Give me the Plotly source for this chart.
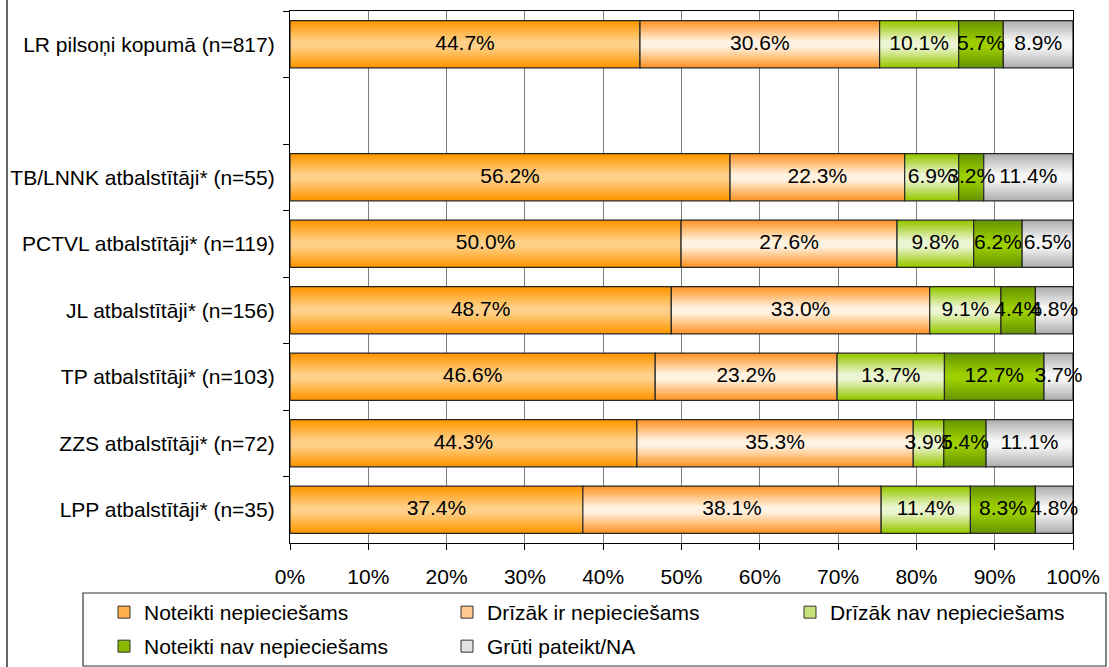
import plotly.graph_objects as go

# ---------------- data ----------------
categories = [
    "LR pilsoņi kopumā (n=817)",
    " ",
    "TB/LNNK atbalstītāji* (n=55)",
    "PCTVL atbalstītāji* (n=119)",
    "JL atbalstītāji* (n=156)",
    "TP atbalstītāji* (n=103)",
    "ZZS atbalstītāji* (n=72)",
    "LPP atbalstītāji* (n=35)",
]
series_names = [
    "Noteikti nepieciešams",
    "Drīzāk ir nepieciešams",
    "Drīzāk nav nepieciešams",
    "Noteikti nav nepieciešams",
    "Grūti pateikt/NA",
]
noteikti_nep = [44.7, None, 56.2, 50.0, 48.7, 46.6, 44.3, 37.4]
drizak_ir = [30.6, None, 22.3, 27.6, 33.0, 23.2, 35.3, 38.1]
drizak_nav = [10.1, None, 6.9, 9.8, 9.1, 13.7, 3.9, 11.4]
noteikti_nav = [5.7, None, 3.2, 6.2, 4.4, 12.7, 5.4, 8.3]
gruti = [8.9, None, 11.4, 6.5, 4.8, 3.7, 11.1, 4.8]
tick_values = [0, 10, 20, 30, 40, 50, 60, 70, 80, 90, 100]

series_values = [noteikti_nep, drizak_ir, drizak_nav, noteikti_nav, gruti]

# ---------------- styling ----------------
edge_colors = [(255, 150, 0), (255, 150, 40), (150, 200, 0), (104, 150, 0), (176, 176, 176)]
center_colors = [(255, 208, 135), (255, 242, 224), (236, 245, 210), (156, 206, 0), (247, 247, 247)]
legend_colors = ["#FFB04A", "#FFC890", "#C8E27A", "#88B800", "#E2E2E2"]
legend_rows = ["legend", "legend", "legend", "legend2", "legend2"]
FONT = "Liberation Sans, Arial, sans-serif"
FS = 21
BAR_W = 0.71
N_LAYERS = 12

# 100% stacked: normalise each row
n_rows = len(categories)
shares = [[None] * n_rows for _ in series_values]
bases = [[None] * n_rows for _ in series_values]
for i in range(n_rows):
    if series_values[0][i] is None:
        continue
    total = sum(s[i] for s in series_values)
    cum = 0.0
    for j, s in enumerate(series_values):
        sh = s[i] / total * 100.0
        shares[j][i] = sh
        bases[j][i] = cum
        cum += sh


def mix(a, b, t):
    return "rgb(%d,%d,%d)" % tuple(round(a[k] + (b[k] - a[k]) * t) for k in range(3))


fig = go.Figure()

for j, name in enumerate(series_names):
    # gradient layers (outer = edge colour, inner = centre colour)
    for k in range(N_LAYERS):
        t = k / (N_LAYERS - 1)
        w = BAR_W * (1 - k / N_LAYERS * 0.92)
        fig.add_trace(go.Bar(
            x=shares[j], y=categories, base=bases[j], orientation="h",
            width=w, marker=dict(color=mix(edge_colors[j], center_colors[j], t), line=dict(width=0)),
            showlegend=False, hoverinfo="skip",
        ))
    # outline
    fig.add_trace(go.Bar(
        x=shares[j], y=categories, base=bases[j], orientation="h",
        width=BAR_W, marker=dict(color="rgba(0,0,0,0)", line=dict(color="#262626", width=1.2)),
        showlegend=False, hoverinfo="skip",
    ))

# legend entries
for j, name in enumerate(series_names):
    fig.add_trace(go.Bar(
        x=[None], y=[None], name=name, orientation="h", legend=legend_rows[j],
        marker=dict(color=legend_colors[j], line=dict(color="#333333", width=1)),
    ))

# data labels
for j, s in enumerate(series_values):
    xs, ys, ts = [], [], []
    for i in range(n_rows):
        if s[i] is None:
            continue
        xs.append(bases[j][i] + shares[j][i] / 2)
        ys.append(categories[i])
        ts.append("%.1f%%" % s[i])
    fig.add_trace(go.Scatter(
        x=xs, y=ys, text=ts, mode="text", textposition="middle center",
        textfont=dict(family=FONT, size=FS, color="black"),
        showlegend=False, hoverinfo="skip", cliponaxis=False,
    ))

W, H = 1109, 667
L, R, T, B = 290, 36, 11, 124
pw, ph = W - L - R, H - T - B


def px_x(p):
    return (p - L) / pw


def px_y(p):
    return (H - B - p) / ph


legend_common = dict(
    orientation="h", xanchor="left", yanchor="top",
    entrywidth=298, entrywidthmode="pixels",
    font=dict(family=FONT, size=FS, color="black"),
    bgcolor="rgba(0,0,0,0)", borderwidth=0, traceorder="normal",
)

fig.update_layout(
    width=W, height=H, autosize=False,
    margin=dict(l=L, r=R, t=T, b=B, pad=0, autoexpand=False),
    paper_bgcolor="white", plot_bgcolor="white",
    barmode="overlay",
    font=dict(family=FONT, size=FS, color="black"),
    xaxis=dict(
        range=[0, 100], tickvals=tick_values, ticktext=["%d%%" % v for v in tick_values],
        showgrid=True, gridcolor="#808080", gridwidth=1.2,
        showline=True, linecolor="black", linewidth=1.2, mirror=True,
        ticks="outside", ticklen=6, tickcolor="black", tickwidth=1,
        ticklabelstandoff=9, zeroline=False, fixedrange=True, automargin=False,
        tickfont=dict(family=FONT, size=FS, color="black"),
    ),
    yaxis=dict(
        categoryorder="array", categoryarray=categories, autorange="reversed",
        showgrid=False, showline=True, linecolor="black", linewidth=1.2, mirror=True,
        ticks="outside", ticklen=6, tickcolor="black", tickwidth=1, tickson="boundaries",
        ticklabelstandoff=10, fixedrange=True, automargin=False,
        tickfont=dict(family=FONT, size=FS, color="black"),
    ),
    legend=dict(legend_common, x=px_x(104), y=px_y(592)),
    legend2=dict(legend_common, x=px_x(104), y=px_y(626)),
    shapes=[
        dict(type="rect", xref="paper", yref="paper",
             x0=px_x(83), x1=px_x(1106), y0=px_y(666), y1=px_y(593),
             line=dict(color="#333333", width=1.2), fillcolor="rgba(0,0,0,0)"),
        dict(type="line", xref="paper", yref="paper",
             x0=px_x(7), x1=px_x(7), y0=px_y(667), y1=px_y(0),
             line=dict(color="#333333", width=1.5)),
    ],
)

fig.write_html(
    "out.html",
    config={"displayModeBar": False},
    post_script="document.body.style.margin='0';document.body.style.padding='0';",
)
